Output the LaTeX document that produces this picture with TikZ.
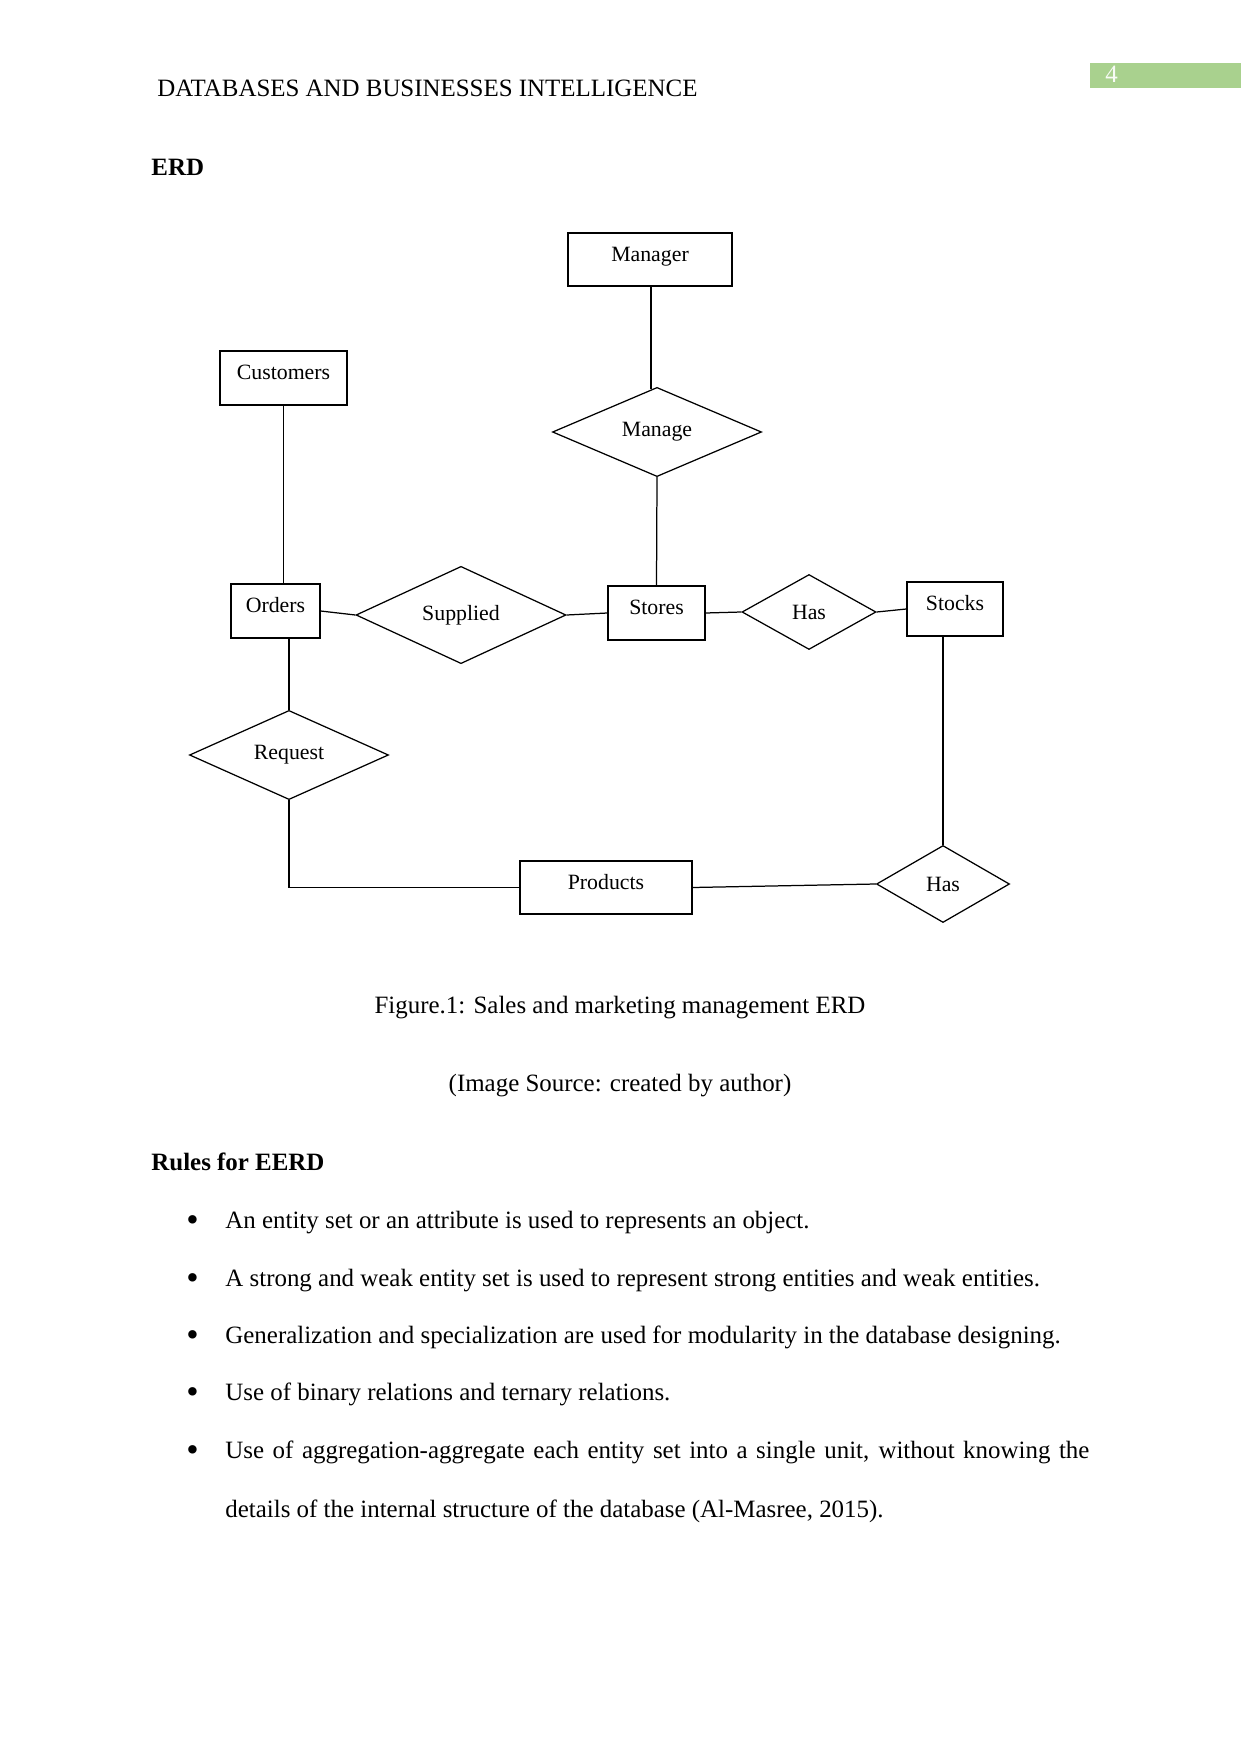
\documentclass[tikz,border=0pt]{standalone}
\usepackage{fontspec}
\setmainfont{Liberation Serif}
\usetikzlibrary{positioning,shapes.geometric}
\definecolor{pagegreen}{HTML}{A9D18E}

\begin{document}
\begin{tikzpicture}[x=0.016922cm,y=-0.016922cm,
    entity/.style={draw,rectangle,line width=0.6pt,inner sep=0pt,text height=6pt,text depth=4.4pt,font=\fontsize{10.5}{12}\selectfont},
    relation/.style={draw,diamond,line width=0.6pt,inner sep=0pt,font=\fontsize{10.5}{12}\selectfont},
    link/.style={line width=0.6pt},
    bodytext/.style={anchor=base west,inner sep=0pt,font=\fontsize{12}{14}\selectfont},
    bulletdot/.style={anchor=base west,inner sep=0pt,font=\fontsize{17}{17}\selectfont}]
        \useasboundingbox (0,0) rectangle (1241,1754);

        % header
        \node[bodytext] (header) at (157,97) {DATABASES AND BUSINESSES INTELLIGENCE};
        \node[fill=pagegreen,minimum width=2.54cm,minimum height=0.42cm,anchor=north west,inner sep=0pt] (pagebox) at (1090,63) {};
        \node[bodytext,text=white!92!pagegreen] (pagenum) at (1105,83) {4};
        \node[bodytext,font=\fontsize{12}{14}\selectfont\bfseries] (erdtitle) at (151,176) {ERD};

        % entities
        \node[entity,minimum width=2.775cm,minimum height=0.897cm] (manager) at (650,259.5) {Manager};
        \node[entity,minimum width=2.149cm,minimum height=0.914cm] (customers) at (283.5,378) {Customers};
        \node[entity,minimum width=1.506cm,minimum height=0.914cm] (orders) at (275.5,611) {Orders};
        \node[entity,minimum width=1.641cm,minimum height=0.914cm] (stores) at (656.5,613) {Stores};
        \node[entity,minimum width=1.625cm,minimum height=0.914cm] (stocks) at (955,609) {Stocks};
        \node[entity,minimum width=2.911cm,minimum height=0.897cm] (products) at (606,887.5) {Products};

        % relationships
        \node[relation,minimum width=3.537cm,minimum height=1.438cm] (manage) at (657,432) {Manage};
        \node[relation,minimum width=3.554cm,minimum height=1.591cm] (supplied) at (461,615) {Supplied};
        \node[relation,minimum width=2.268cm,minimum height=1.269cm] (hasstocks) at (809,612) {Has};
        \node[relation,minimum width=3.368cm,minimum height=1.421cm] (request) at (289,755) {Request};
        \node[relation,minimum width=2.251cm,minimum height=1.303cm] (hasproducts) at (943,884) {Has};

        \draw[link] (manage.98) -- (manage.98 |- manager.south);
        \draw[link] (manage.south) -- (stores.north);
        \draw[link] (customers.south) -- (customers.south |- orders.north);
        \draw[link] (orders.east) -- (supplied.west);
        \draw[link] (supplied.east) -- (stores.west);
        \draw[link] (stores.east) -- (hasstocks.west);
        \draw[link] (hasstocks.east) -- (stocks.west);
        \draw[link] (request.north |- orders.south) -- (request.north);
        \draw[link] (request.south) |- (products.west);
        \draw[link] (products.east) -- (hasproducts.west);
        \draw[link] (hasproducts.north |- stocks.south) -- (hasproducts.north);

        % caption
        \node[bodytext,anchor=base] (caption) at (620,1013) {Figure.1: Sales and marketing management ERD};
        \node[bodytext,anchor=base] (source) at (620,1091) {(Image Source: created by author)};

        % rules
        \node[bodytext,font=\fontsize{12}{14}\selectfont\bfseries] (rulestitle) at (151,1170) {Rules for EERD};
        \node[bulletdot] (dot1) at (186,1231) {\textbullet};
        \node[bodytext] (rule1) at (225,1228) {An entity set or an attribute is used to represents an object.};
        \node[bulletdot] (dot2) at (186,1289) {\textbullet};
        \node[bodytext] (rule2) at (225,1286) {A strong and weak entity set is used to represent strong entities and weak entities.};
        \node[bulletdot] (dot3) at (186,1346) {\textbullet};
        \node[bodytext] (rule3) at (225,1343) {Generalization and specialization are used for modularity in the database designing.};
        \node[bulletdot] (dot4) at (186,1403) {\textbullet};
        \node[bodytext] (rule4) at (225,1400) {Use of binary relations and ternary relations.};
        \node[bulletdot] (dot5) at (186,1461) {\textbullet};
        \node[bodytext] (rule5) at (225,1458) {\makebox[14.62cm][s]{Use of aggregation-aggregate each entity set into a single unit, without knowing the}};
        \node[bodytext] (rule5b) at (225,1517) {details of the internal structure of the database (Al-Masree, 2015).};
    \end{tikzpicture}
\end{document}
